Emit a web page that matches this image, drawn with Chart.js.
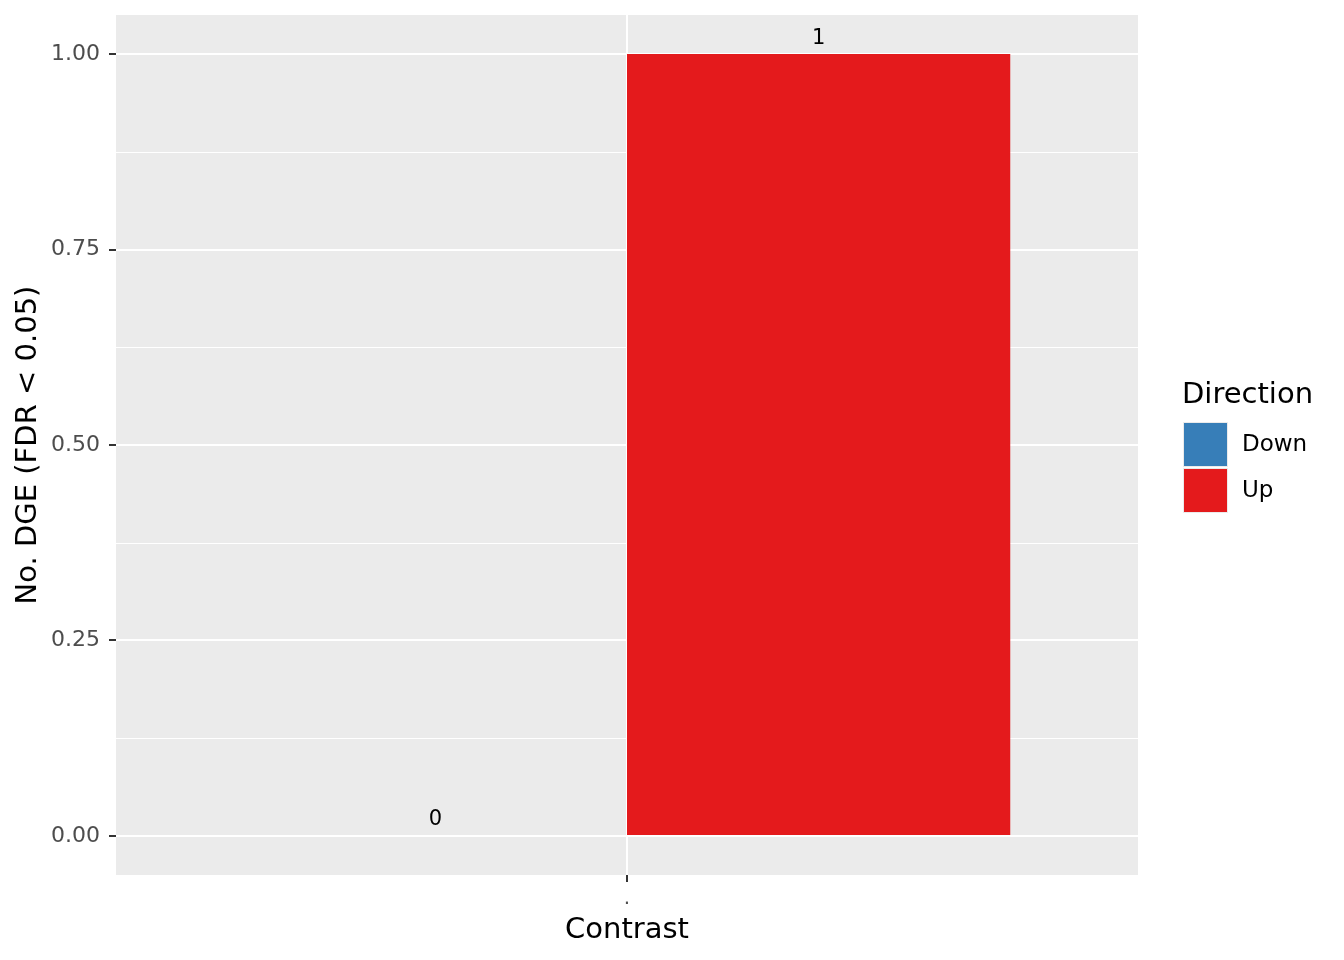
<!DOCTYPE html>
<html>
<head>
<meta charset="utf-8">
<script src="https://cdn.jsdelivr.net/npm/chart.js@4"></script>
<style>
  html, body { margin: 0; padding: 0; background: #fff; }
  #wrap { width: 1344px; height: 960px; }
</style>
</head>
<body>
<div id="wrap"><canvas id="dgeChart" width="1344" height="960"></canvas></div>
<script>
// data
const contrasts = ['.'];
const directions = ['Down', 'Up'];
const downCounts = [0];
const upCounts = [1];
const yTickValues = [0, 0.25, 0.5, 0.75, 1];
const dirColors = ['#377EB8', '#E41A1C'];

const FONT = 'DejaVu Sans';

// grey panel + minor grid lines
const panelBg = {
    id: 'panelBg',
    beforeDraw(chart) {
        const { ctx, chartArea: a, scales } = chart;
        ctx.save();
        ctx.fillStyle = '#EBEBEB';
        ctx.fillRect(a.left, a.top, a.right - a.left, a.bottom - a.top);
        ctx.strokeStyle = '#FFFFFF';
        ctx.lineWidth = 1;
        for (let i = 0; i < yTickValues.length - 1; i++) {
            const mid = (yTickValues[i] + yTickValues[i + 1]) / 2;
            const y = Math.round(scales.y.getPixelForValue(mid)) + 0.5;
            ctx.beginPath();
            ctx.moveTo(a.left, y);
            ctx.lineTo(a.right, y);
            ctx.stroke();
        }
        ctx.restore();
    }
};

// value labels + legend
const extras = {
    id: 'extras',
    afterDatasetsDraw(chart) {
        const ctx = chart.ctx;
        ctx.save();
        ctx.fillStyle = '#000';
        ctx.font = '21px "' + FONT + '"';
        ctx.textAlign = 'center';
        ctx.textBaseline = 'middle';
        chart.data.datasets.forEach((ds, di) => {
            const meta = chart.getDatasetMeta(di);
            meta.data.forEach((bar, i) => {
                ctx.fillText(String(ds.data[i]), bar.x, bar.y - 16);
            });
        });

        // legend
        const lx = 1183, ly = 423, key = 43;
        ctx.textAlign = 'left';
        ctx.textBaseline = 'middle';
        ctx.font = '29px "' + FONT + '"';
        ctx.fillText('Direction', lx - 1, 395);
        ctx.font = '23px "' + FONT + '"';
        directions.forEach((d, i) => {
            const y = ly + i * (key + 3);
            ctx.fillStyle = '#EBEBEB';
            ctx.fillRect(lx, y - 1, key + 2, key + 2);
            ctx.fillStyle = dirColors[i];
            ctx.fillRect(lx + 1, y, key, key);
            ctx.fillStyle = '#000';
            ctx.fillText(d, 1242, y + key / 2 + 1);
        });
        ctx.restore();
    }
};

new Chart(document.getElementById('dgeChart').getContext('2d'), {
    type: 'bar',
    data: {
        labels: contrasts,
        datasets: [
            { label: directions[0], data: downCounts, backgroundColor: dirColors[0] },
            { label: directions[1], data: upCounts, backgroundColor: dirColors[1] }
        ]
    },
    options: {
        responsive: false,
        animation: false,
        layout: { padding: { top: 15, right: 206, bottom: 0, left: 0 } },
        datasets: { bar: { categoryPercentage: 0.75, barPercentage: 1.0 } },
        plugins: {
            legend: { display: false },
            tooltip: { enabled: false }
        },
        scales: {
            x: {
                offset: true,
                border: { display: false },
                grid: { offset: false, color: '#FFFFFF', lineWidth: 2, tickColor: '#333333', tickWidth: 2, tickLength: 7 },
                ticks: { color: '#4D4D4D', font: { family: FONT, size: 20 }, padding: 5 },
                title: { display: true, text: 'Contrast', color: '#000', font: { family: FONT, size: 29 }, padding: { top: 0, bottom: 12 } },
                afterFit(s) { s.height = 85; s.paddingLeft = 0; s.paddingRight = 0; }
            },
            y: {
                min: -0.05,
                max: 1.05,
                border: { display: false },
                afterBuildTicks(s) { s.ticks = yTickValues.map(v => ({ value: v })); },
                grid: { color: '#FFFFFF', lineWidth: 2, tickColor: '#333333', tickWidth: 2, tickLength: 7 },
                ticks: {
                    color: '#4D4D4D',
                    font: { family: FONT, size: 22 },
                    padding: 9,
                    callback: v => Number(v).toFixed(2)
                },
                title: { display: true, text: 'No. DGE (FDR < 0.05)', color: '#000', font: { family: FONT, size: 29 }, padding: { top: 11, bottom: 0 } },
                afterFit(s) { s.width = 116; s.paddingTop = 0; s.paddingBottom = 0; }
            }
        }
    },
    plugins: [panelBg, extras]
});
</script>
</body>
</html>
